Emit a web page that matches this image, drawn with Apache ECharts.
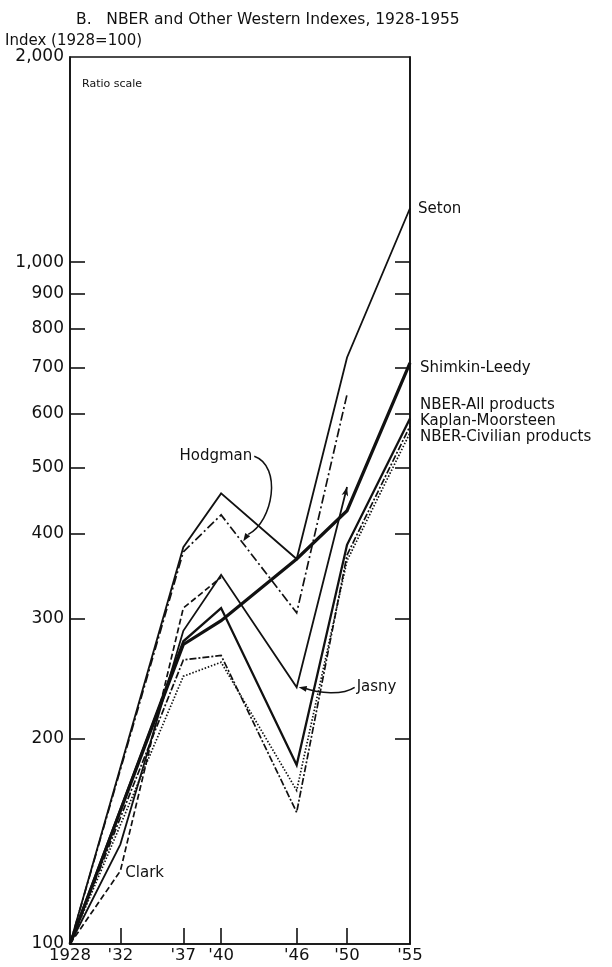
<!DOCTYPE html>
<html>
<head>
<meta charset="utf-8">
<script src="https://cdn.jsdelivr.net/npm/echarts@6/dist/echarts.min.js"></script>
<style>
  html, body { margin: 0; padding: 0; background: #fff; }
  #chart { width: 612px; height: 967px; }
</style>
</head>
<body>
<div id="chart"></div>
<script>
// Benchmark years and their axis labels
const years = [1928, 1932, 1937, 1940, 1946, 1950, 1955];
const yearLabels = ['1928', "'32", "'37", "'40", "'46", "'50", "'55"];
const yearTicks = [1932, 1937, 1940, 1946, 1950];

// Index scale (1928 = 100), ratio scale
const indexLabels = [100, 200, 300, 400, 500, 600, 700, 800, 900, 1000, 2000];
const indexTicks = [200, 300, 400, 500, 600, 700, 800, 900, 1000];

// Index values by benchmark year (null = not covered)
const seton   = [100, null, 382, 458, 367, 725, 1200];
const hodgman = [100, null, 376, 426, 306, 640, null];
const shimkin = [100, null, 275, 298, 367, 432, 712];
const jasny   = [100, 140, 288, 348, 238, 468, null];
const nberAll = [100, null, 278, 311, 183, 385, 590];
const kaplan  = [100, null, 261, 265, 156, 372, 575];
const nberCiv = [100, null, 247, 259, 168, 365, 562];
const clark   = [100, 128, 311, 345, null, null, null];

const FONT = 'DejaVu Sans';
const INK = '#111';

function pairs(vals) {
  const out = [];
  vals.forEach((v, i) => { if (v != null) out.push([years[i], v]); });
  return out;
}

function lineSeries(name, vals, width, type) {
  return {
    name, type: 'line', data: pairs(vals),
    symbol: 'none', showSymbol: false, silent: true, animation: false,
    lineStyle: { color: INK, width, type: type || 'solid', cap: 'butt', join: 'miter' },
    z: 3
  };
}

// Jasny's series ends with an arrow head at 1950
const jasnySeries = lineSeries('Jasny', jasny, 1.8);
jasnySeries.showSymbol = true;
jasnySeries.data = jasnySeries.data.map((p, i, arr) => i === arr.length - 1
  ? { value: p, symbol: 'arrow', symbolSize: [5, 9], symbolRotate: -14,
      itemStyle: { color: INK } }
  : { value: p, symbol: 'none' });

const chart = echarts.init(document.getElementById('chart'), null, { renderer: 'canvas' });

const axisCommon = {
  type: 'log', logBase: 10, min: 100, max: 2000,
  splitLine: { show: false },
  axisLine: { show: true, lineStyle: { color: INK, width: 1.6 } },
  axisTick: { show: true, inside: true, length: 15, customValues: indexTicks,
              lineStyle: { color: INK, width: 1.6 } }
};

chart.setOption({
  animation: false,
  backgroundColor: '#fff',
  title: {
    text: 'B.   NBER and Other Western Indexes, 1928-1955',
    left: 71, top: 7,
    textStyle: { fontFamily: FONT, fontSize: 15.5, fontWeight: 'normal', color: INK }
  },
  grid: { left: 70, right: 202, top: 57, bottom: 23, show: true,
          borderColor: INK, borderWidth: 1.6, backgroundColor: 'transparent' },
  xAxis: {
    type: 'value', min: 1928, max: 1955,
    splitLine: { show: false },
    axisLine: { show: true, lineStyle: { color: INK, width: 1.6 } },
    axisTick: { show: true, inside: true, length: 16, customValues: yearTicks,
                lineStyle: { color: INK, width: 1.6 } },
    axisLabel: {
      customValues: years, margin: 3,
      formatter: v => yearLabels[years.indexOf(Math.round(v))] || '',
      fontFamily: FONT, fontSize: 16.5, color: INK
    }
  },
  yAxis: [
    Object.assign({}, axisCommon, {
      position: 'left',
      axisLabel: {
        customValues: indexLabels, margin: 6,
        formatter: v => Math.round(v).toLocaleString('en-US'),
        fontFamily: FONT, fontSize: 17, color: INK
      }
    }),
    Object.assign({}, axisCommon, {
      position: 'right',
      axisLabel: { show: false }
    })
  ],
  series: [
    lineSeries('Seton', seton, 1.8),
    lineSeries('Hodgman', hodgman, 1.7, [9, 3, 2, 3]),
    lineSeries('Shimkin-Leedy', shimkin, 3.2),
    jasnySeries,
    lineSeries('NBER-All products', nberAll, 2.3),
    lineSeries('Kaplan-Moorsteen', kaplan, 1.7, [7, 2, 2, 2]),
    lineSeries('NBER-Civilian products', nberCiv, 1.7, [1.5, 1.8]),
    lineSeries('Clark', clark, 1.7, [6, 3])
  ]
});

// Annotations anchored to the plotted data
const px = (year, v) => chart.convertToPixel({ xAxisIndex: 0, yAxisIndex: 0 }, [year, v]);
const text = (x, y, s, size, align) => ({
  type: 'text', x, y, silent: true,
  style: { text: s, fontFamily: FONT, fontSize: size || 15, fill: INK,
           textAlign: align || 'left', textVerticalAlign: 'middle' }
});
const arrowHead = (tip, from, len, half) => {
  const dx = tip[0] - from[0], dy = tip[1] - from[1];
  const d = Math.hypot(dx, dy), ux = dx / d, uy = dy / d;
  const bx = tip[0] - ux * len, by = tip[1] - uy * len;
  return { type: 'polygon', silent: true,
    shape: { points: [tip, [bx - uy * half, by + ux * half], [bx + uy * half, by - ux * half]] },
    style: { fill: INK } };
};
const curve = (a, c1, c2, b) => ({
  type: 'bezierCurve', silent: true,
  shape: { x1: a[0], y1: a[1], cpx1: c1[0], cpy1: c1[1], cpx2: c2[0], cpy2: c2[1], x2: b[0], y2: b[1] },
  style: { stroke: INK, lineWidth: 1.5, fill: 'none', lineDash: null }
});

const setonEnd = px(1955, seton[6]);
const shimEnd = px(1955, shimkin[6]);
const nberEnd = px(1955, nberAll[6]);
const lx = setonEnd[0] + 8;

// Hodgman pointer lands on the 1940-46 segment
const h40 = px(1940, hodgman[3]), h46 = px(1946, hodgman[4]);
const hTip = [h40[0] + (h46[0] - h40[0]) * 0.28 + 1, h40[1] + (h46[1] - h40[1]) * 0.28 - 1];
const hStart = [hTip[0] + 11, hTip[1] - 85];

// Jasny pointer lands on the 1946 low
const j46 = px(1946, jasny[4]);
const jTip = [j46[0] + 2, j46[1]];
const jStart = [jTip[0] + 56, jTip[1]];

// Clark label sits beside the 1932 point
const c32 = px(1932, clark[1]);

chart.setOption({
  graphic: [
    text(5, 41, 'Index (1928=100)', 15),
    text(82, 84, 'Ratio scale', 11),
    text(lx, setonEnd[1] + 1, 'Seton'),
    text(lx + 2, shimEnd[1] + 5, 'Shimkin-Leedy'),
    text(lx + 2, nberEnd[1] - 13, 'NBER-All products'),
    text(lx + 2, nberEnd[1] + 3, 'Kaplan-Moorsteen'),
    text(lx + 2, nberEnd[1] + 19, 'NBER-Civilian products'),
    text(hStart[0] - 2, hStart[1], 'Hodgman', 15, 'right'),
    curve(hStart, [hStart[0] + 28, hStart[1] + 10], [hTip[0] + 30, hTip[1] - 20], [hTip[0] + 5, hTip[1] - 7]),
    arrowHead(hTip, [hTip[0] + 6, hTip[1] - 9], 8, 3),
    text(jStart[0] + 2, jStart[1], 'Jasny'),
    curve(jStart, [jStart[0] - 12, jTip[1] + 8], [jTip[0] + 20, jTip[1] + 6], [jTip[0] + 6, jTip[1] + 1]),
    arrowHead(jTip, [jTip[0] + 10, jTip[1] + 2], 8, 3),
    text(c32[0] + 5, c32[1] + 2, 'Clark')
  ]
});
</script>
</body>
</html>
